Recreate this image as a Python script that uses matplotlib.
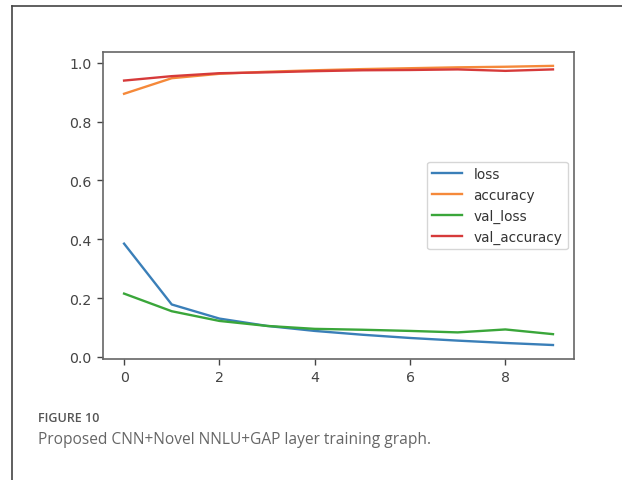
import matplotlib
matplotlib.use("Agg")
import matplotlib.pyplot as plt
from matplotlib.lines import Line2D

plt.rcParams['font.family'] = ['DejaVu Sans']

epochs = list(range(10))
loss = [0.385, 0.178, 0.130, 0.105, 0.088, 0.075, 0.064, 0.055, 0.047, 0.040]
accuracy = [0.895, 0.948, 0.963, 0.970, 0.975, 0.979, 0.982, 0.985, 0.987, 0.990]
val_loss = [0.215, 0.155, 0.122, 0.105, 0.095, 0.092, 0.088, 0.083, 0.093, 0.077]
val_accuracy = [0.940, 0.955, 0.965, 0.968, 0.972, 0.975, 0.976, 0.978, 0.973, 0.978]
series_names = ["loss", "accuracy", "val_loss", "val_accuracy"]
caption_label = "FIGURE 10"
caption_text = "Proposed CNN+Novel NNLU+GAP layer training graph."

fig = plt.figure(figsize=(6.22, 4.81), dpi=100)
ax = fig.add_axes([0.165, 0.2516, 0.7585, 0.6384])

colors = ["#3a7fb8", "#f5893a", "#3aa63a", "#d63a3a"]
for vals, name, c in zip([loss, accuracy, val_loss, val_accuracy], series_names, colors):
    ax.plot(epochs, vals, color=c, label=name, lw=1.7)

ax.set_xticks([0, 2, 4, 6, 8])
ax.set_yticks([0.0, 0.2, 0.4, 0.6, 0.8, 1.0])
ax.tick_params(labelsize=10.2, colors="#444444", length=4.5, width=1.0)
for s in ax.spines.values():
    s.set_color("#666666")
    s.set_linewidth(1.2)
ax.legend(loc="center right", fontsize=9.8, labelcolor="#333333", handlelength=2.2)

# frame lines
fig.add_artist(Line2D([12/622, 1], [1-7/481, 1-7/481], color="#444444", lw=1.2, transform=fig.transFigure))
fig.add_artist(Line2D([12/622, 12/622], [0, 1-7/481], color="#444444", lw=1.2, transform=fig.transFigure))

fig.text(38/622, 1-418/481, caption_label, fontsize=9, color="#555555", fontfamily="Open Sans", fontweight="semibold", va="center")
fig.text(38/622, 1-440/481, caption_text, fontsize=11.2, color="#666666", fontfamily="Open Sans", va="center")

fig.savefig("out.png", dpi=100)
